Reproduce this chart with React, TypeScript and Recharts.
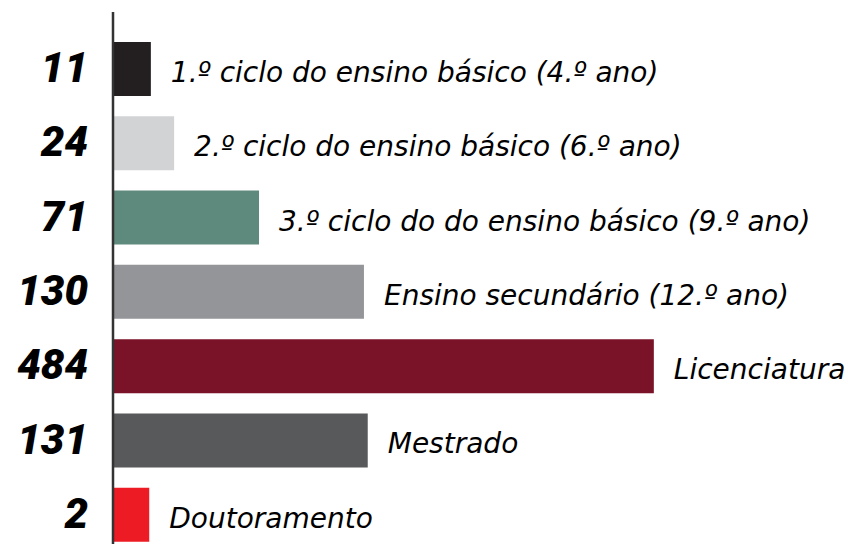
import React from 'react';
import { BarChart, Bar, XAxis, YAxis, Cell, LabelList } from 'recharts';

// education levels, top to bottom
const levels = [
  '1.º ciclo do ensino básico (4.º ano)',
  '2.º ciclo do ensino básico (6.º ano)',
  '3.º ciclo do do ensino básico (9.º ano)',
  'Ensino secundário (12.º ano)',
  'Licenciatura',
  'Mestrado',
  'Doutoramento',
];

// counts printed next to the axis
const counts = [11, 24, 71, 130, 484, 131, 2];

// drawn bar length, as % of the longest bar (the original is not to scale)
const barLength = [7.0, 11.3, 27.0, 46.4, 100, 47.1, 6.7];

const barColors = ['#231f20', '#d1d3d4', '#5e8a7d', '#939598', '#7a1228', '#58595b', '#ed1c24'];

const data = levels.map((name, i) => ({ name, count: counts[i], length: barLength[i] }));

const CountTick = (props: any) => {
  const { x, y, payload } = props;
  return (
    <text
      x={x - 17}
      y={y + 13}
      textAnchor="end"
      fontFamily="Roboto, sans-serif"
      fontWeight={900}
      fontStyle="italic"
      fontSize={42}
      fill="#000"
    >
      {counts[payload.index]}
    </text>
  );
};

const LevelLabel = (props: any) => {
  const { x, y, width, height, value } = props;
  return (
    <text
      x={x + width + 20}
      y={y + height / 2 + 13}
      fontFamily="'DejaVu Sans', sans-serif"
      fontStyle="italic"
      fontSize={28}
      fill="#000"
    >
      {value}
    </text>
  );
};

export default function App() {
  return (
    <div style={{ width: 848, height: 544, overflow: 'hidden', background: '#fff' }}>
      <style>{'body{margin:0}'}</style>
      <BarChart
        width={848}
        height={552}
        data={data}
        layout="vertical"
        margin={{ top: 12, right: 0, bottom: 0, left: 0 }}
        barSize={54}
      >
        <XAxis type="number" dataKey="length" domain={[0, 135.9]} hide />
        <YAxis
          type="category"
          dataKey="name"
          width={113}
          padding={{ top: 20, bottom: 0 }}
          axisLine={{ stroke: '#333', strokeWidth: 2.5 }}
          tickLine={false}
          tick={<CountTick />}
          interval={0}
        />
        <Bar dataKey="length" isAnimationActive={false}>
          {data.map((d, i) => (
            <Cell key={d.name} fill={barColors[i]} />
          ))}
          <LabelList dataKey="name" content={<LevelLabel />} />
        </Bar>
      </BarChart>
    </div>
  );
}
